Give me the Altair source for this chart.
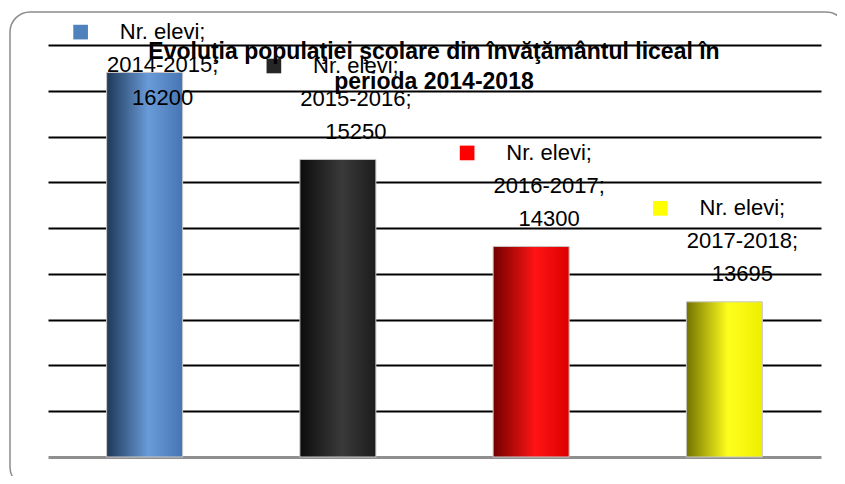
import altair as alt
import pandas as pd

# ---- data ----
years = ["2014-2015", "2015-2016", "2016-2017", "2017-2018"]
values = [16200, 15250, 14300, 13695]
series_name = "Nr. elevi"
key_colors = ["#4f81bd", "#262626", "#ff0000", "#ffff00"]
grad_stops = [
    ["#1e3858", "#6a9bd9", "#4775b3"],
    ["#0c0c0c", "#3a3a3a", "#1c1c1c"],
    ["#720000", "#ff1414", "#dc0000"],
    ["#727200", "#ffff1e", "#eeee00"],
]
title_lines = [
    "Evoluţia populaţiei şcolare din învăţământul liceal în",
    "perioda 2014-2018",
]
grid_values = [12500, 13000, 13500, 14000, 14500, 15000, 15500, 16000, 16500]
y_domain = [12000, 16500]

df = pd.DataFrame({"year": years, "value": values})
df["line1"] = series_name + ";"
df["line2"] = df["year"] + ";"
df["line3"] = df["value"].astype(str)

FONT = "Liberation Sans"

x_enc = alt.X(
    "year:N",
    sort=years,
    scale=alt.Scale(paddingInner=0, paddingOuter=0),
    axis=alt.Axis(labels=False, ticks=False, title=None, grid=False,
                  domainColor="#8f8f8f", domainWidth=3),
)
y_scale = alt.Scale(domain=y_domain, nice=False, zero=False)
y_axis = alt.Axis(labels=False, ticks=False, title=None, domain=False,
                  values=grid_values, grid=True, gridColor="black",
                  gridWidth=2, gridOpacity=1)
y_enc = alt.Y("value:Q", scale=y_scale, axis=y_axis)

one = alt.InlineData(values=[{"k": 1}])

frame = alt.Chart(one).mark_rect(
    fill="transparent", stroke="#8c8c8c", strokeWidth=1.5, cornerRadius=20
).encode(
    x=alt.value(-38), x2=alt.value(798), y=alt.value(-33), y2=alt.value(442)
)

base = alt.Chart(df)

bar_layers = []
for yr, stops in zip(years, grad_stops):
    grad = {
        "gradient": "linear",
        "x1": 0, "x2": 1, "y1": 0, "y2": 0,
        "stops": [
            {"offset": 0, "color": stops[0]},
            {"offset": 0.55, "color": stops[1]},
            {"offset": 1, "color": stops[2]},
        ],
    }
    bar_layers.append(
        base.transform_filter(alt.datum.year == yr)
        .mark_bar(size=76, color=grad, stroke="#c8c8c8", strokeWidth=1)
        .encode(x=x_enc, y=y_enc, y2=alt.datum(y_domain[0]))
    )

lab = base.transform_calculate(
    anchor="datum.value >= 16000 ? datum.value - 280 : datum.value + 300"
)
lab_y = alt.Y("anchor:Q", scale=y_scale, axis=y_axis)

text_layers = []
for field, dy in [("line1", -66), ("line2", -33), ("line3", 0)]:
    text_layers.append(
        lab.mark_text(font=FONT, fontSize=22, color="black", dx=18, dy=dy,
                      align="center", baseline="middle")
        .encode(x=x_enc, y=lab_y, text=f"{field}:N")
    )

keys = lab.mark_square(size=215, opacity=1, xOffset=-64, yOffset=-66).encode(
    x=x_enc,
    y=lab_y,
    color=alt.Color("year:N", scale=alt.Scale(domain=years, range=key_colors),
                    legend=None),
)

title = alt.Chart(one).mark_text(
    text=title_lines, font=FONT, fontWeight="bold", fontSize=23,
    lineHeight=30, align="center", baseline="middle", color="black",
).encode(x=alt.value(386), y=alt.value(7))

chart = alt.layer(frame, *bar_layers, *text_layers, keys, title).properties(
    width=773,
    height=412,
    autosize=alt.AutoSizeParams(type="none"),
    padding={"left": 40, "top": 37, "right": 16, "bottom": 19},
    background="white",
).configure_view(stroke=None)

chart.save("out.html", embed_options={"renderer": "svg", "actions": False})
